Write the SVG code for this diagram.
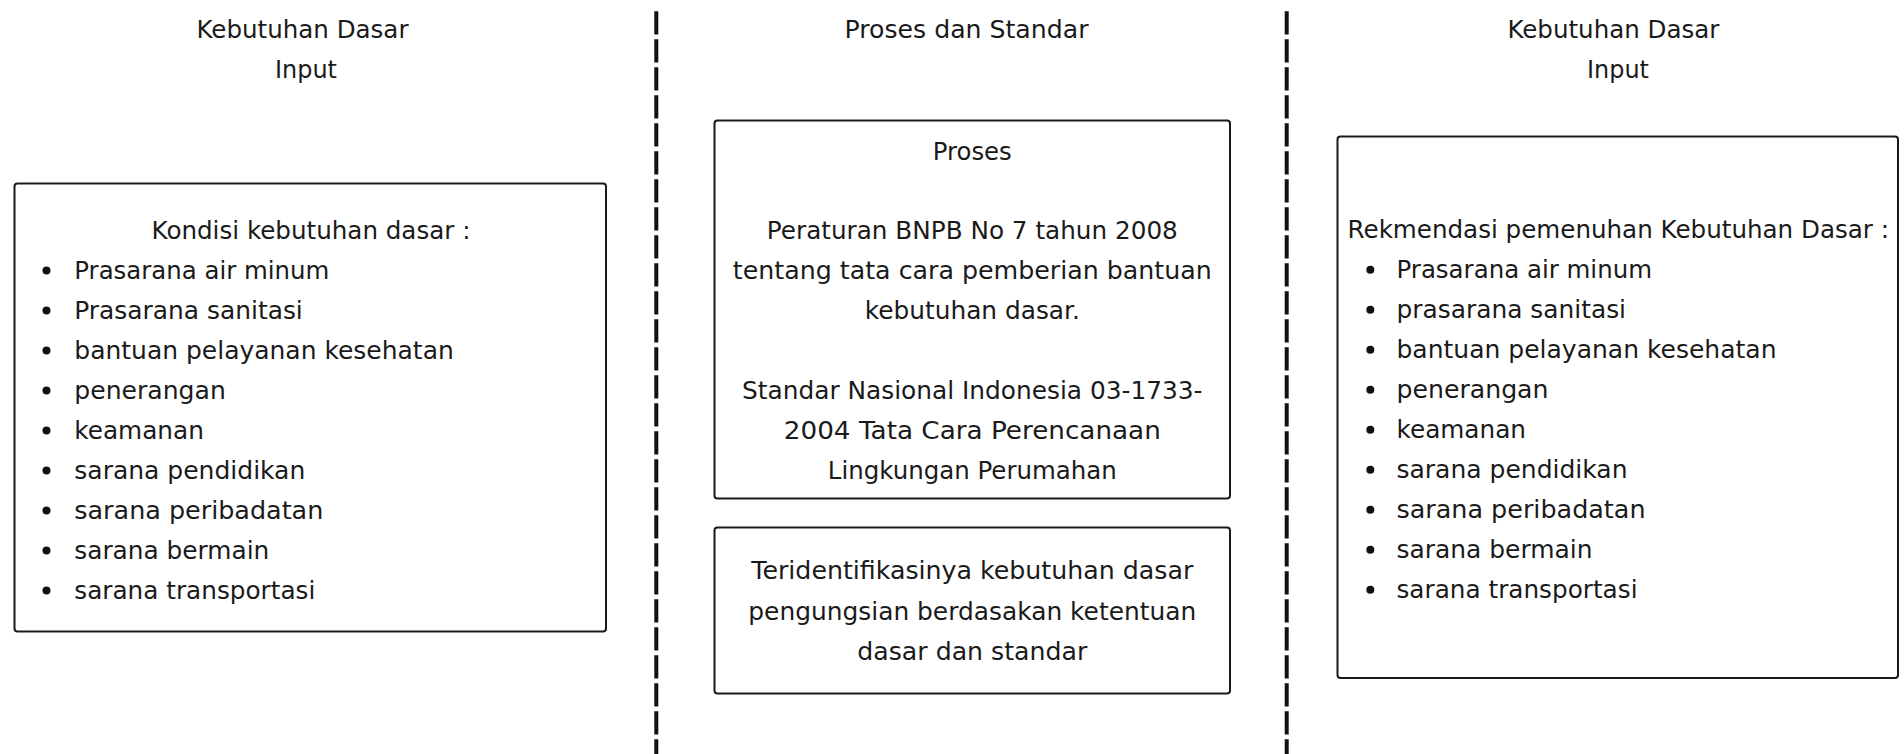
<svg xmlns="http://www.w3.org/2000/svg" width="1904" height="754" viewBox="0 0 1904 754">
  <style>
    text { font-family: "DejaVu Sans", "Liberation Sans", sans-serif; font-size: 24px; fill: #1a1a1a; }
    .c { text-anchor: middle; }
    .box { fill: #fff; stroke: #1a1a1a; stroke-width: 2; }
    .div { stroke: #111; stroke-width: 4; stroke-dasharray: 23.3 4.7; fill: none; }
    .dot { fill: #111; }
  </style>
  <rect width="1904" height="754" fill="#fff"/>
  <g id="connectors">
    <line class="div" x1="656.3" y1="11.3" x2="656.3" y2="754"/>
    <line class="div" x1="1286.7" y1="11.3" x2="1286.7" y2="754"/>
  </g>
  <g id="title-left">
    <text class="c" x="302.5" y="38" textLength="212" lengthAdjust="spacingAndGlyphs">Kebutuhan Dasar</text>
    <text class="c" x="306" y="78" textLength="62" lengthAdjust="spacingAndGlyphs">Input</text>
  </g>
  <g id="title-middle">
    <text class="c" x="966.5" y="37.5" textLength="244" lengthAdjust="spacingAndGlyphs">Proses dan Standar</text>
  </g>
  <g id="title-right">
    <text class="c" x="1613.4" y="37.5" textLength="212" lengthAdjust="spacingAndGlyphs">Kebutuhan Dasar</text>
    <text class="c" x="1618" y="78" textLength="62" lengthAdjust="spacingAndGlyphs">Input</text>
  </g>
  <g id="node-kondisi">
    <rect class="box" x="14.5" y="183.5" width="591.5" height="448" rx="3"/>
    <text class="c" x="311" y="239.3" textLength="319" lengthAdjust="spacingAndGlyphs">Kondisi kebutuhan dasar :</text>
    <circle class="dot" cx="46.5" cy="270.5" r="4"/><text x="74.3" y="279" textLength="255" lengthAdjust="spacingAndGlyphs">Prasarana air minum</text>
    <circle class="dot" cx="46.5" cy="310.5" r="4"/><text x="74.3" y="319" textLength="228.5" lengthAdjust="spacingAndGlyphs">Prasarana sanitasi</text>
    <circle class="dot" cx="46.5" cy="350.5" r="4"/><text x="74.3" y="359" textLength="379.5" lengthAdjust="spacingAndGlyphs">bantuan pelayanan kesehatan</text>
    <circle class="dot" cx="46.5" cy="390.5" r="4"/><text x="74.3" y="399" textLength="151.5" lengthAdjust="spacingAndGlyphs">penerangan</text>
    <circle class="dot" cx="46.5" cy="430.5" r="4"/><text x="74.3" y="439" textLength="129.5" lengthAdjust="spacingAndGlyphs">keamanan</text>
    <circle class="dot" cx="46.5" cy="470.5" r="4"/><text x="74.3" y="479" textLength="231" lengthAdjust="spacingAndGlyphs">sarana pendidikan</text>
    <circle class="dot" cx="46.5" cy="510.5" r="4"/><text x="74.3" y="519" textLength="249" lengthAdjust="spacingAndGlyphs">sarana peribadatan</text>
    <circle class="dot" cx="46.5" cy="550.5" r="4"/><text x="74.3" y="559" textLength="195" lengthAdjust="spacingAndGlyphs">sarana bermain</text>
    <circle class="dot" cx="46.5" cy="590.5" r="4"/><text x="74.3" y="599" textLength="241" lengthAdjust="spacingAndGlyphs">sarana transportasi</text>
  </g>
  <g id="node-proses">
    <rect class="box" x="714.5" y="120.5" width="515.5" height="378" rx="3"/>
    <text class="c" x="972.3" y="160.2" textLength="79" lengthAdjust="spacingAndGlyphs">Proses</text>
    <text class="c" x="972.3" y="239.3" textLength="411" lengthAdjust="spacingAndGlyphs">Peraturan BNPB No 7 tahun 2008</text>
    <text class="c" x="972.3" y="279.3" textLength="479" lengthAdjust="spacingAndGlyphs">tentang tata cara pemberian bantuan</text>
    <text class="c" x="972.3" y="319.3" textLength="215" lengthAdjust="spacingAndGlyphs">kebutuhan dasar.</text>
    <text class="c" x="972.3" y="399.3" textLength="460.5" lengthAdjust="spacingAndGlyphs">Standar Nasional Indonesia 03-1733-</text>
    <text class="c" x="972.3" y="439.3" textLength="377" lengthAdjust="spacingAndGlyphs">2004 Tata Cara Perencanaan</text>
    <text class="c" x="972.3" y="479.3" textLength="289" lengthAdjust="spacingAndGlyphs">Lingkungan Perumahan</text>
  </g>
  <g id="node-hasil">
    <rect class="box" x="714.5" y="527.5" width="515.5" height="166" rx="3"/>
    <text class="c" x="972.3" y="579" textLength="442" lengthAdjust="spacingAndGlyphs">Teridentifikasinya kebutuhan dasar</text>
    <text class="c" x="972.3" y="619.5" textLength="448" lengthAdjust="spacingAndGlyphs">pengungsian berdasakan ketentuan</text>
    <text class="c" x="972.3" y="660" textLength="230" lengthAdjust="spacingAndGlyphs">dasar dan standar</text>
  </g>
  <g id="node-rekomendasi">
    <rect class="box" x="1337.5" y="136.5" width="560.5" height="541.5" rx="3"/>
    <text class="c" x="1618.3" y="237.5" textLength="541.5" lengthAdjust="spacingAndGlyphs">Rekmendasi pemenuhan Kebutuhan Dasar :</text>
    <circle class="dot" cx="1370.3" cy="269.8" r="4"/><text x="1396.5" y="278.3" textLength="255.5" lengthAdjust="spacingAndGlyphs">Prasarana air minum</text>
    <circle class="dot" cx="1370.3" cy="309.8" r="4"/><text x="1396.5" y="318.3" textLength="229.5" lengthAdjust="spacingAndGlyphs">prasarana sanitasi</text>
    <circle class="dot" cx="1370.3" cy="349.8" r="4"/><text x="1396.5" y="358.3" textLength="380" lengthAdjust="spacingAndGlyphs">bantuan pelayanan kesehatan</text>
    <circle class="dot" cx="1370.3" cy="389.8" r="4"/><text x="1396.5" y="398.3" textLength="152" lengthAdjust="spacingAndGlyphs">penerangan</text>
    <circle class="dot" cx="1370.3" cy="429.8" r="4"/><text x="1396.5" y="438.3" textLength="129.5" lengthAdjust="spacingAndGlyphs">keamanan</text>
    <circle class="dot" cx="1370.3" cy="469.8" r="4"/><text x="1396.5" y="478.3" textLength="231" lengthAdjust="spacingAndGlyphs">sarana pendidikan</text>
    <circle class="dot" cx="1370.3" cy="509.8" r="4"/><text x="1396.5" y="518.3" textLength="249" lengthAdjust="spacingAndGlyphs">sarana peribadatan</text>
    <circle class="dot" cx="1370.3" cy="549.8" r="4"/><text x="1396.5" y="558.3" textLength="196" lengthAdjust="spacingAndGlyphs">sarana bermain</text>
    <circle class="dot" cx="1370.3" cy="589.8" r="4"/><text x="1396.5" y="598.3" textLength="241" lengthAdjust="spacingAndGlyphs">sarana transportasi</text>
  </g>
</svg>
